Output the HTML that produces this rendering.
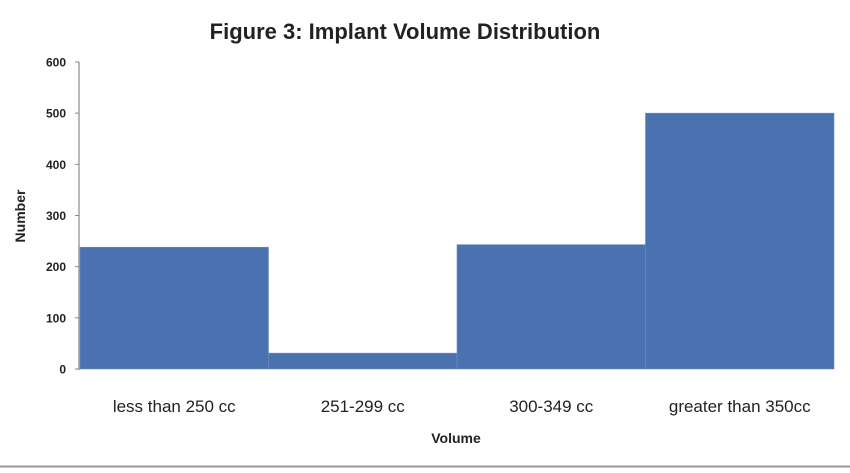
<!DOCTYPE html>
<html><head><meta charset="utf-8"><style>
body{margin:0;background:#fff;}
svg text{font-family:"Liberation Sans",sans-serif;}
</style></head><body>
<svg width="850" height="468" viewBox="0 0 850 468">
<text x="405" y="39" text-anchor="middle" font-size="22" font-weight="bold" fill="#222">Figure 3: Implant Volume Distribution</text>
<g id="bars"></g>
<line x1="79" y1="62" x2="79" y2="370" stroke="#8a8a8a" stroke-width="1.2"/>
<g id="yticks"></g>
<g id="xlabels"></g>
<text x="25" y="216" text-anchor="middle" font-size="14" font-weight="bold" fill="#222" transform="rotate(-90 25 216)">Number</text>
<text x="456" y="443" text-anchor="middle" font-size="14" font-weight="bold" fill="#222">Volume</text>
<line x1="0" y1="466.5" x2="850" y2="466.5" stroke="#999" stroke-width="2"/>
</svg>
<script>
const categories=["less than 250 cc","251-299 cc","300-349 cc","greater than 350cc"];
const values=[238,31,243,500];
const yTicks=[0,100,200,300,400,500,600];
const NS="http://www.w3.org/2000/svg";
const x0=80,x1=834,yZero=369,yTop=62,yMax=600;
const y=v=>yZero-(v/yMax)*(yZero-yTop);
const bw=(x1-x0)/categories.length;
const xb=i=>x0+i*bw;
const bars=document.getElementById('bars'),yt=document.getElementById('yticks'),xl=document.getElementById('xlabels');
values.forEach((v,i)=>{
 const r=document.createElementNS(NS,'rect');
 r.setAttribute('x',xb(i));r.setAttribute('y',y(v));r.setAttribute('width',bw);r.setAttribute('height',yZero-y(v));
 r.setAttribute('fill','#4a72b0');r.setAttribute('stroke','#6b8cc0');r.setAttribute('stroke-width','0.6');
 
 
 bars.appendChild(r);
 const t=document.createElementNS(NS,'text');
 t.setAttribute('x',xb(i)+bw/2);t.setAttribute('y',412);t.setAttribute('text-anchor','middle');t.setAttribute('font-size','17');t.setAttribute('fill','#222');
 t.textContent=categories[i];
 
 
 xl.appendChild(t);
});
yTicks.forEach(v=>{
 const l=document.createElementNS(NS,'line');
 l.setAttribute('x1',75);l.setAttribute('x2',79);l.setAttribute('y1',y(v));l.setAttribute('y2',y(v));l.setAttribute('stroke','#8a8a8a');
 
 
 yt.appendChild(l);
 const t=document.createElementNS(NS,'text');
 t.setAttribute('x',66);t.setAttribute('y',y(v)+4.5);t.setAttribute('text-anchor','end');t.setAttribute('font-size','12');t.setAttribute('font-weight','bold');t.setAttribute('fill','#222');
 t.textContent=v;
 
 
 yt.appendChild(t);
});
</script>
</body></html>
